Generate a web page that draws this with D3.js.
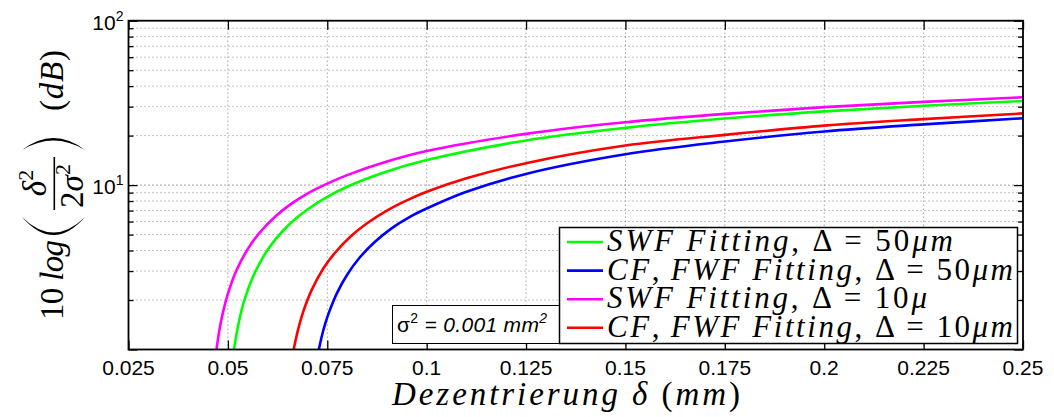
<!DOCTYPE html>
<html>
<head>
<meta charset="utf-8">
<script src="https://d3js.org/d3.v7.min.js"></script>
<style>
  body { margin: 0; background: #fff; }
  svg { display: block; }
  .tick-label { font-family: "Liberation Sans", Arial, sans-serif; font-size: 21px; fill: #000; }
  .math { font-family: "Liberation Serif", "Times New Roman", serif; fill: #000; }
</style>
</head>
<body>
<div id="chart"></div>
<script>
// axis ticks
const xTicks = [0.025, 0.05, 0.075, 0.1, 0.125, 0.15, 0.175, 0.2, 0.225, 0.25];
const xTickLabels = ['0.025', '0.05', '0.075', '0.1', '0.125', '0.15', '0.175', '0.2', '0.225', '0.25'];
const yMajorTicks = [1, 10, 100];
const yTickExponents = [null, '1', '2']; // 10^0 has no label in the original
const yMinorTicks = [2, 3, 4, 5, 6, 7, 8, 9, 20, 30, 40, 50, 60, 70, 80, 90];

// series: [delta (mm), value]
const swf50 = [[0.0513, 0.91], [0.052, 1.18], [0.053, 1.56], [0.054, 1.94], [0.056, 2.66], [0.059, 3.7],
  [0.062, 4.69], [0.066, 5.94], [0.07, 7.11], [0.075, 8.49], [0.08, 9.78], [0.09, 12.1], [0.1, 14.2],
  [0.125, 18.7], [0.15, 22.3], [0.175, 25.4], [0.2, 28.1], [0.225, 30.4], [0.25, 32.5]];
const cffwf50 = [[0.0727, 0.95], [0.0735, 1.17], [0.0745, 1.44], [0.0755, 1.7], [0.0775, 2.22], [0.08, 2.85],
  [0.083, 3.59], [0.087, 4.52], [0.091, 5.42], [0.096, 6.45], [0.1, 7.2], [0.11, 9.1], [0.125, 11.7],
  [0.15, 15.4], [0.175, 18.4], [0.2, 21.2], [0.225, 23.4], [0.25, 25.5]];
const swf10 = [[0.047, 0.95], [0.048, 1.37], [0.049, 1.78], [0.05, 2.18], [0.052, 2.97], [0.055, 4.08],
  [0.058, 5.14], [0.062, 6.47], [0.066, 7.71], [0.07, 8.88], [0.075, 10.2], [0.08, 11.5], [0.09, 13.9],
  [0.1, 16.1], [0.125, 20.5], [0.15, 24.1], [0.175, 27.1], [0.2, 29.8], [0.225, 32.1], [0.25, 34.2]];
const cffwf10 = [[0.0664, 0.95], [0.067, 1.13], [0.068, 1.42], [0.069, 1.71], [0.071, 2.28], [0.074, 3.11],
  [0.077, 3.89], [0.081, 4.9], [0.085, 5.86], [0.09, 7.0], [0.095, 8.07], [0.1, 9.1], [0.11, 11.0],
  [0.125, 13.6], [0.15, 17.4], [0.175, 20.2], [0.2, 23.0], [0.225, 25.2], [0.25, 27.3]];

const seriesNames = ['SWF Fitting, Δ = 50μm', 'CF,\u2009FWF Fitting, Δ = 50μm', 'SWF Fitting, Δ = 10μ', 'CF,\u2009FWF Fitting, Δ = 10μm'];
const seriesData = [swf50, cffwf50, swf10, cffwf10];
const seriesColors = ['#00ff00', '#0000ff', '#ff00ff', '#ff0000'];

const sigmaNote = ['σ', '2', ' = 0.001 mm', '2'];

const width = 1054, height = 417;
const plot = { left: 128.5, right: 1023, top: 20.7, bottom: 349.5 };

// writes a LaTeX-like math string: letters italic, digits and symbols upright
function appendMath(text, str) {
  const runs = [];
  for (const ch of str) {
    const it = /[A-Za-zμδσ]/.test(ch);
    if (runs.length && runs[runs.length - 1].it === it) runs[runs.length - 1].t += ch;
    else runs.push({ t: ch, it });
  }
  runs.forEach(r => text.append('tspan').attr('font-style', r.it ? 'italic' : 'normal').text(r.t));
  return text;
}

// big thin parenthesis as a crescent, in the rotated label frame
function parenPath(tipU, outerU, innerU, w0, w1) {
  const wm = (w0 + w1) / 2;
  const co = 2 * outerU - tipU, ci = 2 * innerU - tipU;
  return `M${tipU},${w0} Q${co},${wm} ${tipU},${w1} Q${ci},${wm} ${tipU},${w0} Z`;
}

function draw() {
  const svg = d3.select('#chart').append('svg')
    .attr('width', width)
    .attr('height', height);

  const x = d3.scaleLinear().domain([0.025, 0.25]).range([plot.left, plot.right]);
  const y = d3.scaleLog().domain([1, 100]).range([plot.bottom, plot.top]);

  // grid (matlab style dotted)
  const grid = svg.append('g');
  grid.selectAll('line.gy-minor')
    .data(yMinorTicks)
    .enter().append('line')
    .attr('x1', plot.left).attr('x2', plot.right)
    .attr('y1', d => y(d)).attr('y2', d => y(d))
    .attr('stroke', '#8a8a8a').attr('stroke-width', 1).attr('stroke-dasharray', '1,3');
  grid.selectAll('line.gy-major')
    .data(yMajorTicks)
    .enter().append('line')
    .attr('x1', plot.left).attr('x2', plot.right)
    .attr('y1', d => y(d)).attr('y2', d => y(d))
    .attr('stroke', '#444').attr('stroke-width', 1).attr('stroke-dasharray', '1,3');
  grid.selectAll('line.gx')
    .data(xTicks)
    .enter().append('line')
    .attr('x1', d => x(d)).attr('x2', d => x(d))
    .attr('y1', plot.top).attr('y2', plot.bottom)
    .attr('stroke', '#777').attr('stroke-width', 1).attr('stroke-dasharray', '1,3');

  // curves
  svg.append('clipPath').attr('id', 'clip')
    .append('rect')
    .attr('x', plot.left).attr('y', plot.top)
    .attr('width', plot.right - plot.left).attr('height', plot.bottom - plot.top);

  const line = d3.line()
    .x(d => x(d[0]))
    .y(d => y(d[1]))
    .curve(d3.curveCatmullRom.alpha(0.5));

  svg.append('g').attr('clip-path', 'url(#clip)')
    .selectAll('path')
    .data(seriesData)
    .enter().append('path')
    .attr('d', line)
    .attr('fill', 'none')
    .attr('stroke', (d, i) => seriesColors[i])
    .attr('stroke-width', 2.6);

  // ticks pointing inwards, on all four sides
  const fmt = () => '';
  svg.append('g').attr('transform', `translate(0,${plot.bottom})`)
    .call(d3.axisBottom(x).tickValues(xTicks).tickSizeInner(-9).tickSizeOuter(0).tickFormat(fmt));
  svg.append('g').attr('transform', `translate(0,${plot.top})`)
    .call(d3.axisTop(x).tickValues(xTicks).tickSizeInner(-9).tickSizeOuter(0).tickFormat(fmt));
  svg.append('g').attr('transform', `translate(${plot.left},0)`)
    .call(d3.axisLeft(y).tickValues(yMajorTicks).tickSizeInner(-9).tickSizeOuter(0).tickFormat(fmt));
  svg.append('g').attr('transform', `translate(${plot.left},0)`)
    .call(d3.axisLeft(y).tickValues(yMinorTicks).tickSizeInner(-5).tickSizeOuter(0).tickFormat(fmt));
  svg.append('g').attr('transform', `translate(${plot.right},0)`)
    .call(d3.axisRight(y).tickValues(yMajorTicks).tickSizeInner(-9).tickSizeOuter(0).tickFormat(fmt));
  svg.append('g').attr('transform', `translate(${plot.right},0)`)
    .call(d3.axisRight(y).tickValues(yMinorTicks).tickSizeInner(-5).tickSizeOuter(0).tickFormat(fmt));
  svg.selectAll('.domain').remove();
  svg.selectAll('.tick line').attr('stroke', '#000').attr('stroke-width', 1.3);

  // box
  svg.append('rect')
    .attr('x', plot.left).attr('y', plot.top)
    .attr('width', plot.right - plot.left).attr('height', plot.bottom - plot.top)
    .attr('fill', 'none').attr('stroke', '#000').attr('stroke-width', 1.8);

  // x tick labels
  svg.append('g').selectAll('text')
    .data(xTicks)
    .enter().append('text')
    .attr('class', 'tick-label')
    .attr('x', d => x(d))
    .attr('y', plot.bottom + 25)
    .attr('text-anchor', 'middle')
    .text((d, i) => xTickLabels[i]);

  // y tick labels 10^n
  yMajorTicks.forEach((v, i) => {
    if (!yTickExponents[i]) return;
    const t = svg.append('text')
      .attr('class', 'tick-label')
      .attr('x', plot.left - 5)
      .attr('y', y(v) + 9)
      .attr('text-anchor', 'end');
    t.append('tspan').text('10');
    t.append('tspan').attr('font-size', 14).attr('dy', -9).text(yTickExponents[i]);
  });

  // x label
  const xl = svg.append('text')
    .attr('class', 'math')
    .attr('x', 392).attr('y', 405)
    .attr('font-size', 33)
    .attr('textLength', 348).attr('lengthAdjust', 'spacing');
  appendMath(xl, 'Dezentrierung δ (mm)');

  // y label, rotated: local x runs upwards from screen y=320, local y = screen x - 63
  const yl = svg.append('g').attr('transform', 'translate(63,320) rotate(-90)');
  const tl = yl.append('text').attr('class', 'math').attr('font-size', 33)
    .attr('x', 0).attr('y', 0).attr('textLength', 80).attr('lengthAdjust', 'spacing');
  appendMath(tl, '10 log');
  yl.append('path').attr('d', parenPath(103, 85, 87.5, -41, 22)).attr('fill', '#000');
  yl.append('line').attr('x1', 110).attr('x2', 163).attr('y1', -8.7).attr('y2', -8.7)
    .attr('stroke', '#000').attr('stroke-width', 1.6);
  const num = yl.append('text').attr('class', 'math').attr('font-size', 33)
    .attr('x', 137).attr('y', -17).attr('text-anchor', 'middle');
  num.append('tspan').attr('font-style', 'italic').text('δ');
  num.append('tspan').attr('font-size', 22).attr('dy', -13).text('2');
  const den = yl.append('text').attr('class', 'math').attr('font-size', 33)
    .attr('x', 134).attr('y', 20).attr('text-anchor', 'middle');
  den.append('tspan').text('2');
  den.append('tspan').attr('font-style', 'italic').text('σ');
  den.append('tspan').attr('font-size', 22).attr('dy', -13).text('2');
  yl.append('path').attr('d', parenPath(170, 182, 179.5, -41, 22)).attr('fill', '#000');
  const db = yl.append('text').attr('class', 'math').attr('font-size', 33)
    .attr('x', 209).attr('y', 0).attr('textLength', 61).attr('lengthAdjust', 'spacing');
  appendMath(db, '(dB)');

  // sigma note box
  svg.append('rect')
    .attr('x', 392.5).attr('y', 305.5).attr('width', 167).attr('height', 38)
    .attr('fill', '#fff').attr('stroke', '#000').attr('stroke-width', 1);
  const sn = svg.append('text')
    .attr('x', 397).attr('y', 332)
    .attr('font-family', '"Liberation Sans", Arial, sans-serif')
    .attr('font-size', 21)
    .attr('textLength', 150).attr('lengthAdjust', 'spacing');
  sn.append('tspan').text(sigmaNote[0]);
  sn.append('tspan').attr('font-size', 14).attr('dy', -9).text(sigmaNote[1]);
  sn.append('tspan').attr('font-style', 'italic').attr('dy', 9).text(sigmaNote[2]);
  sn.append('tspan').attr('font-style', 'italic').attr('font-size', 14).attr('dy', -9).text(sigmaNote[3]);

  // legend
  const legendWidths = [346, 406, 320, 406];
  const lg = svg.append('g');
  lg.append('rect')
    .attr('x', 559.5).attr('y', 227.5).attr('width', 458).attr('height', 116)
    .attr('fill', '#fff').attr('stroke', '#000').attr('stroke-width', 1.5);
  seriesNames.forEach((name, i) => {
    const ly = 242 + i * 28.6;
    lg.append('line')
      .attr('x1', 567).attr('x2', 603).attr('y1', ly).attr('y2', ly)
      .attr('stroke', seriesColors[i]).attr('stroke-width', 2.6);
    const t = lg.append('text')
      .attr('class', 'math')
      .attr('x', 607).attr('y', ly + 9)
      .attr('font-size', 31)
      .attr('textLength', legendWidths[i]).attr('lengthAdjust', 'spacing');
    appendMath(t, name);
  });
}

draw();
</script>
</body>
</html>
